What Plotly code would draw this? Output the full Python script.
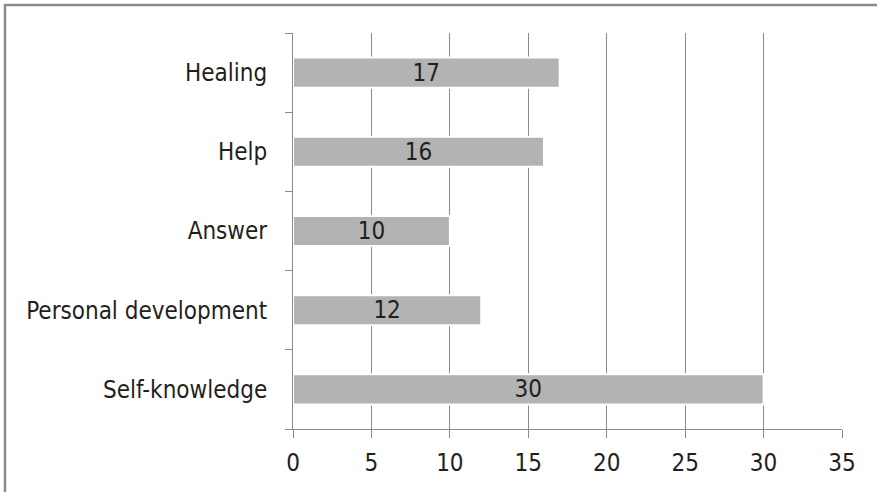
import plotly.graph_objects as go

categories = ["Self-knowledge", "Personal development", "Answer", "Help", "Healing"]
values = [30, 12, 10, 16, 17]
x_ticks = [0, 5, 10, 15, 20, 25, 30, 35]

FONT = "DejaVu Sans Condensed, Liberation Sans Narrow, Arial Narrow, sans-serif"
TXT = "#1f1f1f"
GRID = "#8a8a8a"
FS = 24

L, R, T, B = 293, 35, 33, 63
PW, PH = 877 - L - R, 492 - T - B

fig = go.Figure()
fig.add_trace(go.Bar(
    y=categories, x=values, orientation="h",
    marker=dict(color="#b3b3b3", line=dict(color="white", width=2)),
    text=[str(v) for v in values], textposition="inside",
    insidetextanchor="middle", textangle=0, constraintext="none",
    textfont=dict(family=FONT, size=FS, color=TXT),
    width=0.38, cliponaxis=False,
))

fig.update_layout(
    width=877, height=492,
    margin=dict(l=L, r=R, t=T, b=B),
    paper_bgcolor="white", plot_bgcolor="white",
    showlegend=False,
    font=dict(family=FONT, size=FS, color=TXT),
    shapes=[dict(type="rect", xref="paper", yref="paper",
                 x0=(5 - L) / PW, x1=1.2, y0=-0.3, y1=1 + (T - 5) / PH,
                 line=dict(color="#8a8a8a", width=2.5), layer="below")],
)
fig.update_xaxes(
    range=[0, 35], tickvals=x_ticks, ticktext=[str(t) for t in x_ticks],
    showgrid=True, gridcolor=GRID, gridwidth=1,
    zeroline=False, showline=True, linecolor=GRID, linewidth=1,
    ticks="outside", ticklen=8, tickcolor=GRID,
    tickfont=dict(family=FONT, size=FS, color=TXT),
    ticklabelstandoff=4, fixedrange=True,
)
fig.update_yaxes(
    categoryorder="array", categoryarray=categories,
    range=[-0.5, 4.5],
    showgrid=False, zeroline=False,
    showline=True, linecolor=GRID, linewidth=1,
    ticks="outside", ticklen=7, tickcolor=GRID, tickson="boundaries",
    tickfont=dict(family=FONT, size=FS, color=TXT),
    ticklabelstandoff=20, fixedrange=True,
)
fig.write_html("out.html")
